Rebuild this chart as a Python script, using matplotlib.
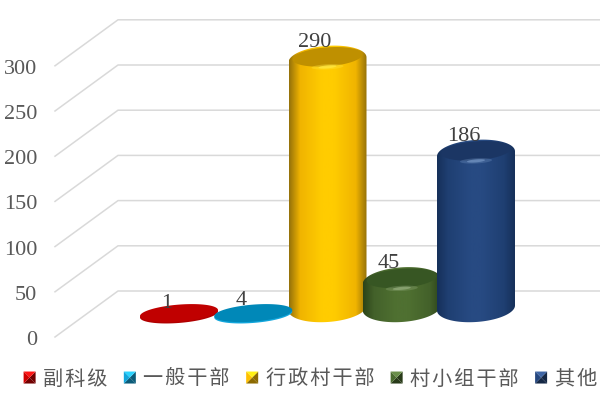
import numpy as np
import matplotlib
matplotlib.use("Agg")
import matplotlib.pyplot as plt
from matplotlib.colors import LinearSegmentedColormap
from matplotlib.legend_handler import HandlerBase
from matplotlib.patches import Patch, Polygon, PathPatch
from matplotlib.path import Path
from matplotlib.transforms import blended_transform_factory

categories = ["副科级", "一般干部", "行政村干部", "村小组干部", "其他"]
values = [1, 4, 290, 45, 186]
y_ticks = [0, 50, 100, 150, 200, 250, 300]

# dark edge, mid, bright centre, cap, highlight
palettes = [
    ("#B00000", "#C00000", "#C80000", "#C00000", "#C00000"),
    ("#12A6DC", "#0A9BD0", "#12A6DC", "#0088B8", "#0088B8"),
    ("#96720A", "#F0B400", "#FFCC00", "#BF9000", "#FFE640"),
    ("#2C4419", "#43612A", "#4F7031", "#375623", "#8FA878"),
    ("#16305A", "#1F3F72", "#274A82", "#1B3664", "#6E8FBE"),
]

PX_PER_UNIT = 0.904   # vertical pixels per value unit
X0, PITCH = 179.0, 74.25
Y0 = 337.0

fig = plt.figure(figsize=(6, 4), dpi=100)
ax = fig.add_axes([0, 0, 1, 1])
ax.axis("off")
xlim = (-X0 / PITCH, (600 - X0) / PITCH)
ylim = ((Y0 - 400) / PX_PER_UNIT, Y0 / PX_PER_UNIT)

gt = blended_transform_factory(ax.transAxes, ax.transData)
depth = 46 / PX_PER_UNIT
for v in y_ticks:
    ax.plot([55 / 600, 118 / 600, 1], [v, v + depth, v + depth], transform=gt,
            color="#D9D9D9", lw=1.1, clip_on=False, zorder=1)
    ax.text(37 / 600, v - 3.5 / PX_PER_UNIT, str(v), transform=gt, ha="right", va="center",
            family="Liberation Serif", fontsize=16, color="#595959")


def ellipse(xc, v, b, rx=39.0, k=2.5, n=120, t0=0.0, t1=2 * np.pi):
    t = np.linspace(t0, t1, n)
    x = xc + rx * np.cos(t) / PITCH
    y = v + (b * np.sin(t) + k * np.cos(t)) / PX_PER_UNIT
    return np.column_stack([x, y])


def clipped_gradient(xc, path, cols, z):
    stops = [(0, cols[0]), (0.14, cols[1]), (0.42, cols[2]), (0.58, cols[2]), (0.86, cols[1]), (1, cols[0])]
    cmap = LinearSegmentedColormap.from_list("g", stops)
    im = ax.imshow(np.linspace(0, 1, 128)[None, :], cmap=cmap, aspect="auto", zorder=z,
                   extent=(xc - 39 / PITCH, xc + 39 / PITCH, -60, 360))
    patch = PathPatch(path, transform=ax.transData, fc="none", ec="none")
    ax.add_patch(patch)
    im.set_clip_path(patch)


for i, (val, cols) in enumerate(zip(values, palettes)):
    top = max(val + 15 / PX_PER_UNIT, 23 / PX_PER_UNIT + 1.0)
    base = min(29 / PX_PER_UNIT, top)
    flat = val < 10
    b = 8.5 if flat else 14.0
    z = 3 + i * 0.1 if val != 290 else 3.05
    if flat:
        ax.add_patch(Polygon(ellipse(i, top - 1.5, b, k=3), closed=True, fc=cols[0], ec="none", zorder=z))
        ax.add_patch(Polygon(ellipse(i, top, b, k=3), closed=True, fc=cols[3], ec="none", zorder=z + 0.01))
    else:
        lower = ellipse(i, base, b, t0=np.pi, t1=2 * np.pi)
        upper = ellipse(i, top, b, t0=0, t1=np.pi)
        outline = np.vstack([lower, upper])
        clipped_gradient(i, Path(np.vstack([outline, outline[0]]), closed=True), cols, z)
        ax.add_patch(Polygon(ellipse(i, top + 3 / PX_PER_UNIT, b * 0.68, rx=35), closed=True,
                             fc=cols[3], ec="none", zorder=z + 0.02))
        for rx, bb, alpha in [(16, 2.6, 0.35), (9, 1.5, 0.8)]:
            ax.add_patch(Polygon(ellipse(i, top - 7 / PX_PER_UNIT, bb, rx=rx, k=0.8), closed=True,
                                 fc=cols[4], ec="none", alpha=alpha, zorder=z + 0.03))
    ax.annotate(str(val), xy=(i, val), xytext=(-9, 23.5), textcoords="offset points",
                ha="center", va="center", family="Liberation Serif", fontsize=16,
                color="#404040", zorder=6)

ax.set_xlim(xlim)
ax.set_ylim(ylim)


class BevelHandler(HandlerBase):
    def create_artists(self, legend, orig, xd, yd, w, h, fontsize, trans):
        c = orig.get_facecolor()
        s = 12 * 0.72
        x0 = w / 2 - s / 2 - xd
        y0 = h / 2 - s / 2 - yd
        dark = tuple(0.55 * q for q in c[:3])
        lite = tuple(min(1, q * 1.15 + 0.08) for q in c[:3])
        pts = np.array([[0, 0], [1, 0], [1, 1], [0, 1]]) * s + [x0, y0]
        ctr = np.array([0.5, 0.5]) * s + [x0, y0]
        art = []
        for a, d, col in [(0, 1, dark), (1, 2, dark), (2, 3, lite), (3, 0, c[:3])]:
            art.append(Polygon([pts[a], pts[d], ctr], closed=True, fc=col, ec="none", transform=trans))
        return art


leg_cols = ["#D00000", "#12A6DC", "#FFC000", "#4A6B2E", "#24467E"]
handles = [Patch(facecolor=c) for c in leg_cols]
labels = ["\u200a".join(c) for c in categories]
fig.legend(handles, labels, ncol=5, loc="center", bbox_to_anchor=(309 / 600, 1 - 379 / 400),
           frameon=False, handler_map={Patch: BevelHandler()},
           handlelength=0.85, handleheight=0.85, handletextpad=0.25, columnspacing=0.68,
           borderaxespad=0, borderpad=0,
           prop={"family": ["Noto Sans CJK SC", "DejaVu Sans"], "size": 14.5, "weight": "light"},
           labelcolor="#595959")

fig.savefig("out.png", dpi=100)
